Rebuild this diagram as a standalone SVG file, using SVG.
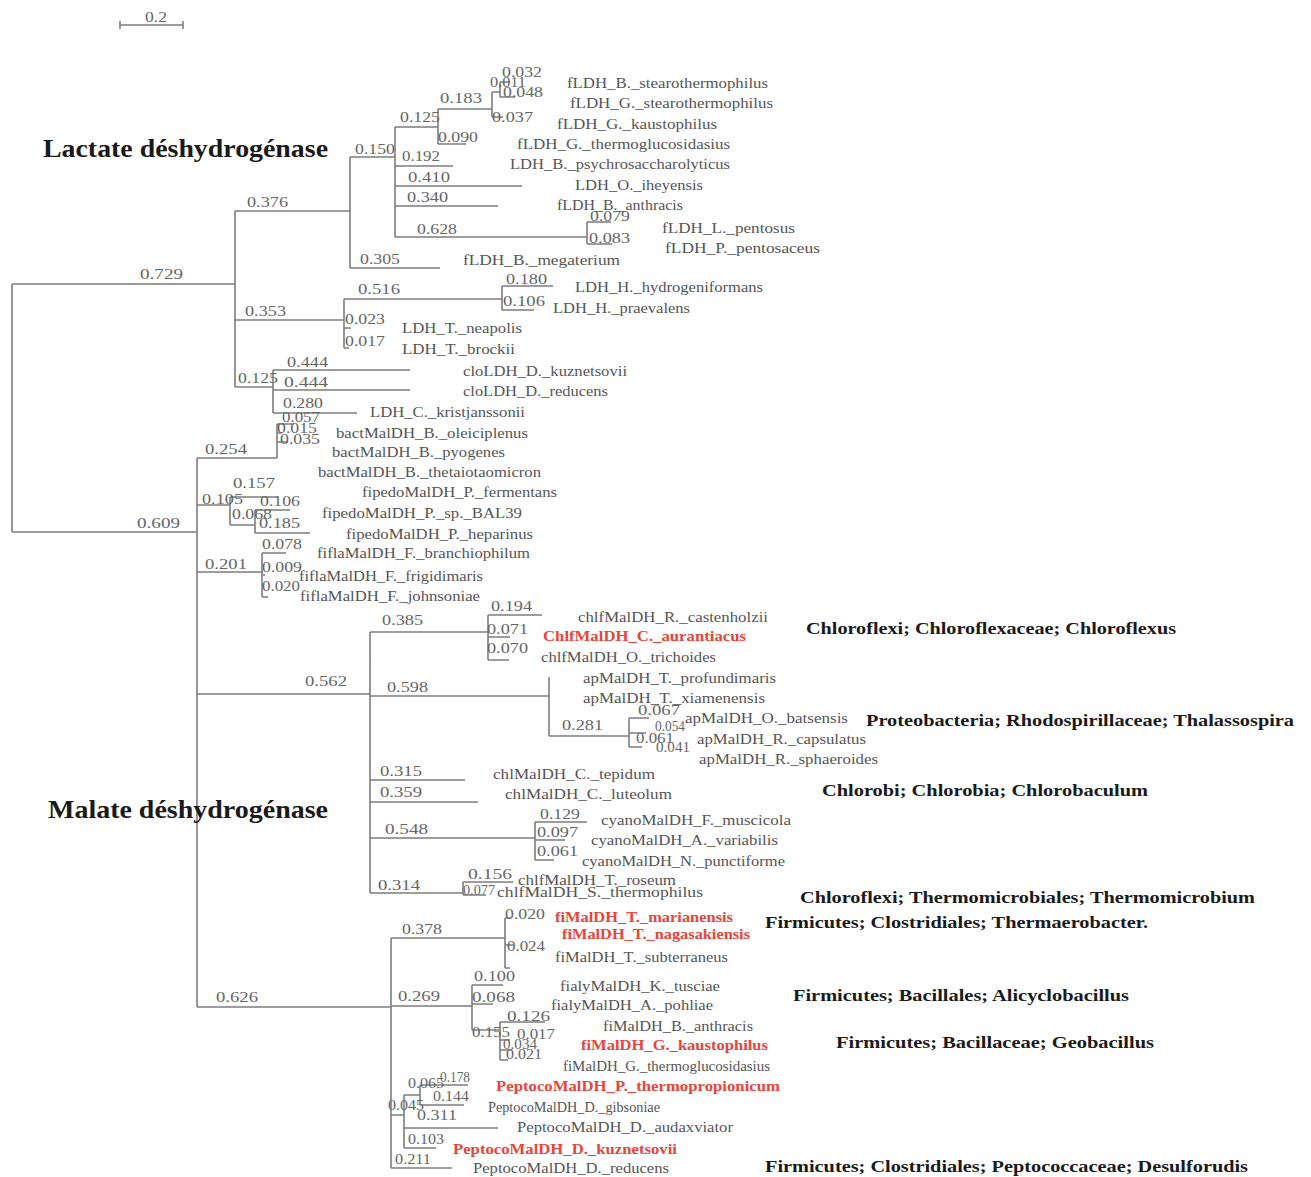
<svg xmlns="http://www.w3.org/2000/svg" width="1311" height="1177" viewBox="0 0 1311 1177">
<style>
text{font-family:"Liberation Serif","Times New Roman",serif}
.t{font-size:14px;fill:#555}
.r{font-size:14px;fill:#e8453c;font-weight:bold}
.n{font-size:14px;fill:#666}
.h{font-size:25px;font-weight:bold;fill:#1a1a1a}
.g{font-size:17px;font-weight:bold;fill:#1a1a1a}
.e{fill:none;stroke:#7d7d7d;stroke-width:1.6}
</style>
<rect width="1311" height="1177" fill="#fff"/>
<g id="scale">
<path class="e" d="M120,25 H183 M120,21 V29 M183,21 V29"/>
<text class="n" x="145" y="22" textLength="22" lengthAdjust="spacingAndGlyphs">0.2</text>
</g>
<g id="connectors">
<path class="e" d="M12,284 V532 M12,284 H235 M12,532 H197
M235,211 V387 M235,211 H350 M350,157 V268 M350,157 H395 M350,268 H440
M395,127 V237 M395,127 H438 M395,166 H453 M395,186 H522 M395,206 H498 M395,237 H587
M438,109 V144 M438,109 H492 M438,144 H466
M492,92 V117 M492,117 H503 M492,92 H500 M500,82 V97 M500,82 H510 M500,97 H515
M587,222 V244 M587,222 H611 M587,244 H612
M235,320 H344 M344,299 V348 M344,299 H502 M344,328 H351 M344,348 H349
M502,286 V310 M502,286 H553 M502,310 H534
M235,387 H273 M273,370 V413 M273,370 H410 M273,390 H410 M273,413 H357
M197,458 V1007
M197,458 H277 M277,424 V458 M277,424 H294 M277,433 H282 M277,442 H288
M197,505 H230 M230,497 V525 M230,497 H278 M230,525 H255 M255,510 V533 M255,510 H290 M255,533 H310
M197,572 H262 M262,553 V597 M262,553 H286 M262,575 H265 M262,597 H268
M197,694 H370 M370,632 V893
M370,632 H488 M488,615 V660 M488,615 H542 M488,637 H510 M488,660 H509
M370,696 H549 M549,677 V736 M549,736 H629 M629,718 V747 M629,718 H649 M629,733 H646 M629,747 H642
M370,780 H465 M370,802 H478
M370,838 H535 M535,822 V860 M535,822 H587 M535,840 H565 M535,860 H554
M370,893 H463 M463,882 V895 M463,882 H513 M463,895 H486
M197,1007 H391 M391,938 V1168
M391,938 H505 M505,918 V968 M505,918 H511 M505,945 H513 M505,968 H510
M391,1006 H472 M472,985 V1030 M472,985 H503 M472,1004 H493
M472,1030 H500 M500,1022 V1060 M500,1022 H545 M500,1040 H510 M500,1050 H512 M500,1060 H508
M391,1168 H452 M391,1115 H404 M404,1095 V1148 M404,1148 H436 M404,1128 H498
M404,1095 H420 M420,1085 V1105 M420,1085 H468 M420,1105 H464"/>
</g>
<g id="branch-lengths">
<text class="n" x="140" y="279" textLength="43" lengthAdjust="spacingAndGlyphs">0.729</text>
<text class="n" x="137" y="528" textLength="43" lengthAdjust="spacingAndGlyphs">0.609</text>
<text class="n" x="247" y="207" textLength="41" lengthAdjust="spacingAndGlyphs">0.376</text>
<text class="n" x="245" y="316" textLength="41" lengthAdjust="spacingAndGlyphs">0.353</text>
<text class="n" x="355" y="154" textLength="40" lengthAdjust="spacingAndGlyphs">0.150</text>
<text class="n" x="400" y="122" textLength="40" lengthAdjust="spacingAndGlyphs">0.125</text>
<text class="n" x="440" y="103" textLength="42" lengthAdjust="spacingAndGlyphs">0.183</text>
<text class="n" x="502" y="77" textLength="40" lengthAdjust="spacingAndGlyphs">0.032</text>
<text class="n" x="490" y="87" textLength="36" lengthAdjust="spacingAndGlyphs">0.011</text>
<text class="n" x="503" y="97" textLength="40" lengthAdjust="spacingAndGlyphs">0.048</text>
<text class="n" x="492" y="122" textLength="41" lengthAdjust="spacingAndGlyphs">0.037</text>
<text class="n" x="438" y="142" textLength="40" lengthAdjust="spacingAndGlyphs">0.090</text>
<text class="n" x="402" y="161" textLength="38" lengthAdjust="spacingAndGlyphs">0.192</text>
<text class="n" x="408" y="182" textLength="42" lengthAdjust="spacingAndGlyphs">0.410</text>
<text class="n" x="407" y="202" textLength="41" lengthAdjust="spacingAndGlyphs">0.340</text>
<text class="n" x="417" y="234" textLength="40" lengthAdjust="spacingAndGlyphs">0.628</text>
<text class="n" x="590" y="221" textLength="40" lengthAdjust="spacingAndGlyphs">0.079</text>
<text class="n" x="589" y="243" textLength="41" lengthAdjust="spacingAndGlyphs">0.083</text>
<text class="n" x="360" y="264" textLength="40" lengthAdjust="spacingAndGlyphs">0.305</text>
<text class="n" x="358" y="294" textLength="42" lengthAdjust="spacingAndGlyphs">0.516</text>
<text class="n" x="506" y="284" textLength="41" lengthAdjust="spacingAndGlyphs">0.180</text>
<text class="n" x="503" y="306" textLength="42" lengthAdjust="spacingAndGlyphs">0.106</text>
<text class="n" x="345" y="324" textLength="40" lengthAdjust="spacingAndGlyphs">0.023</text>
<text class="n" x="345" y="346" textLength="40" lengthAdjust="spacingAndGlyphs">0.017</text>
<text class="n" x="238" y="383" textLength="40" lengthAdjust="spacingAndGlyphs">0.125</text>
<text class="n" x="287" y="367" textLength="41" lengthAdjust="spacingAndGlyphs">0.444</text>
<text class="n" x="284" y="387" textLength="44" lengthAdjust="spacingAndGlyphs">0.444</text>
<text class="n" x="283" y="408" textLength="40" lengthAdjust="spacingAndGlyphs">0.280</text>
<text class="n" x="282" y="422" textLength="38" lengthAdjust="spacingAndGlyphs">0.057</text>
<text class="n" x="277" y="433" textLength="40" lengthAdjust="spacingAndGlyphs">0.015</text>
<text class="n" x="280" y="444" textLength="40" lengthAdjust="spacingAndGlyphs">0.035</text>
<text class="n" x="205" y="454" textLength="42" lengthAdjust="spacingAndGlyphs">0.254</text>
<text class="n" x="233" y="488" textLength="42" lengthAdjust="spacingAndGlyphs">0.157</text>
<text class="n" x="202" y="504" textLength="41" lengthAdjust="spacingAndGlyphs">0.105</text>
<text class="n" x="260" y="506" textLength="40" lengthAdjust="spacingAndGlyphs">0.106</text>
<text class="n" x="232" y="519" textLength="40" lengthAdjust="spacingAndGlyphs">0.068</text>
<text class="n" x="259" y="528" textLength="41" lengthAdjust="spacingAndGlyphs">0.185</text>
<text class="n" x="262" y="549" textLength="40" lengthAdjust="spacingAndGlyphs">0.078</text>
<text class="n" x="205" y="569" textLength="42" lengthAdjust="spacingAndGlyphs">0.201</text>
<text class="n" x="262" y="572" textLength="40" lengthAdjust="spacingAndGlyphs">0.009</text>
<text class="n" x="262" y="591" textLength="38" lengthAdjust="spacingAndGlyphs">0.020</text>
<text class="n" x="305" y="686" textLength="42" lengthAdjust="spacingAndGlyphs">0.562</text>
<text class="n" x="382" y="625" textLength="41" lengthAdjust="spacingAndGlyphs">0.385</text>
<text class="n" x="491" y="611" textLength="41" lengthAdjust="spacingAndGlyphs">0.194</text>
<text class="n" x="487" y="634" textLength="41" lengthAdjust="spacingAndGlyphs">0.071</text>
<text class="n" x="487" y="653" textLength="41" lengthAdjust="spacingAndGlyphs">0.070</text>
<text class="n" x="387" y="692" textLength="41" lengthAdjust="spacingAndGlyphs">0.598</text>
<text class="n" x="562" y="730" textLength="41" lengthAdjust="spacingAndGlyphs">0.281</text>
<text class="n" x="638" y="715" textLength="42" lengthAdjust="spacingAndGlyphs">0.067</text>
<text class="n" x="655" y="731" textLength="30" lengthAdjust="spacingAndGlyphs">0.054</text>
<text class="n" x="636" y="743" textLength="38" lengthAdjust="spacingAndGlyphs">0.061</text>
<text class="n" x="656" y="752" textLength="34" lengthAdjust="spacingAndGlyphs">0.041</text>
<text class="n" x="380" y="776" textLength="42" lengthAdjust="spacingAndGlyphs">0.315</text>
<text class="n" x="380" y="797" textLength="42" lengthAdjust="spacingAndGlyphs">0.359</text>
<text class="n" x="385" y="834" textLength="43" lengthAdjust="spacingAndGlyphs">0.548</text>
<text class="n" x="540" y="819" textLength="40" lengthAdjust="spacingAndGlyphs">0.129</text>
<text class="n" x="537" y="837" textLength="41" lengthAdjust="spacingAndGlyphs">0.097</text>
<text class="n" x="537" y="856" textLength="41" lengthAdjust="spacingAndGlyphs">0.061</text>
<text class="n" x="378" y="890" textLength="42" lengthAdjust="spacingAndGlyphs">0.314</text>
<text class="n" x="468" y="879" textLength="44" lengthAdjust="spacingAndGlyphs">0.156</text>
<text class="n" x="463" y="895" textLength="32" lengthAdjust="spacingAndGlyphs">0.077</text>
<text class="n" x="216" y="1002" textLength="42" lengthAdjust="spacingAndGlyphs">0.626</text>
<text class="n" x="402" y="934" textLength="40" lengthAdjust="spacingAndGlyphs">0.378</text>
<text class="n" x="505" y="919" textLength="40" lengthAdjust="spacingAndGlyphs">0.020</text>
<text class="n" x="507" y="951" textLength="38" lengthAdjust="spacingAndGlyphs">0.024</text>
<text class="n" x="398" y="1001" textLength="42" lengthAdjust="spacingAndGlyphs">0.269</text>
<text class="n" x="474" y="981" textLength="41" lengthAdjust="spacingAndGlyphs">0.100</text>
<text class="n" x="472" y="1002" textLength="43" lengthAdjust="spacingAndGlyphs">0.068</text>
<text class="n" x="507" y="1021" textLength="43" lengthAdjust="spacingAndGlyphs">0.126</text>
<text class="n" x="472" y="1037" textLength="38" lengthAdjust="spacingAndGlyphs">0.155</text>
<text class="n" x="517" y="1039" textLength="38" lengthAdjust="spacingAndGlyphs">0.017</text>
<text class="n" x="503" y="1049" textLength="34" lengthAdjust="spacingAndGlyphs">0.034</text>
<text class="n" x="506" y="1059" textLength="36" lengthAdjust="spacingAndGlyphs">0.021</text>
<text class="n" x="440" y="1082" textLength="30" lengthAdjust="spacingAndGlyphs">0.178</text>
<text class="n" x="408" y="1088" textLength="36" lengthAdjust="spacingAndGlyphs">0.065</text>
<text class="n" x="433" y="1101" textLength="36" lengthAdjust="spacingAndGlyphs">0.144</text>
<text class="n" x="388" y="1110" textLength="36" lengthAdjust="spacingAndGlyphs">0.045</text>
<text class="n" x="417" y="1120" textLength="40" lengthAdjust="spacingAndGlyphs">0.311</text>
<text class="n" x="408" y="1144" textLength="36" lengthAdjust="spacingAndGlyphs">0.103</text>
<text class="n" x="395" y="1164" textLength="36" lengthAdjust="spacingAndGlyphs">0.211</text>
</g>
<g id="titles">
<text class="h" x="43" y="157" textLength="285" lengthAdjust="spacingAndGlyphs">Lactate déshydrogénase</text>
<text class="h" x="48" y="818" textLength="280" lengthAdjust="spacingAndGlyphs">Malate déshydrogénase</text>
</g>
<g id="taxonomy">
<text class="g" x="806" y="634" textLength="370" lengthAdjust="spacingAndGlyphs">Chloroflexi; Chloroflexaceae; Chloroflexus</text>
<text class="g" x="866" y="726" textLength="428" lengthAdjust="spacingAndGlyphs">Proteobacteria; Rhodospirillaceae; Thalassospira</text>
<text class="g" x="822" y="796" textLength="326" lengthAdjust="spacingAndGlyphs">Chlorobi; Chlorobia; Chlorobaculum</text>
<text class="g" x="800" y="903" textLength="455" lengthAdjust="spacingAndGlyphs">Chloroflexi; Thermomicrobiales; Thermomicrobium</text>
<text class="g" x="765" y="928" textLength="383" lengthAdjust="spacingAndGlyphs">Firmicutes; Clostridiales; Thermaerobacter.</text>
<text class="g" x="793" y="1001" textLength="336" lengthAdjust="spacingAndGlyphs">Firmicutes; Bacillales; Alicyclobacillus</text>
<text class="g" x="836" y="1048" textLength="318" lengthAdjust="spacingAndGlyphs">Firmicutes; Bacillaceae; Geobacillus</text>
<text class="g" x="765" y="1172" textLength="483" lengthAdjust="spacingAndGlyphs">Firmicutes; Clostridiales; Peptococcaceae; Desulforudis</text>
</g>
<g id="taxa">
<g id="n1"><text class="t" x="567" y="88" textLength="201" lengthAdjust="spacingAndGlyphs">fLDH_B._stearothermophilus</text></g>
<g id="n2"><text class="t" x="570" y="108" textLength="203" lengthAdjust="spacingAndGlyphs">fLDH_G._stearothermophilus</text></g>
<g id="n3"><text class="t" x="557" y="129" textLength="160" lengthAdjust="spacingAndGlyphs">fLDH_G._kaustophilus</text></g>
<g id="n4"><text class="t" x="517" y="149" textLength="213" lengthAdjust="spacingAndGlyphs">fLDH_G._thermoglucosidasius</text></g>
<g id="n5"><text class="t" x="510" y="169" textLength="220" lengthAdjust="spacingAndGlyphs">LDH_B._psychrosaccharolyticus</text></g>
<g id="n6"><text class="t" x="575" y="190" textLength="128" lengthAdjust="spacingAndGlyphs">LDH_O._iheyensis</text></g>
<g id="n7"><text class="t" x="557" y="210" textLength="126" lengthAdjust="spacingAndGlyphs">fLDH_B._anthracis</text></g>
<g id="n8"><text class="t" x="662" y="233" textLength="133" lengthAdjust="spacingAndGlyphs">fLDH_L._pentosus</text></g>
<g id="n9"><text class="t" x="665" y="253" textLength="155" lengthAdjust="spacingAndGlyphs">fLDH_P._pentosaceus</text></g>
<g id="n10"><text class="t" x="463" y="265" textLength="157" lengthAdjust="spacingAndGlyphs">fLDH_B._megaterium</text></g>
<g id="n11"><text class="t" x="575" y="292" textLength="188" lengthAdjust="spacingAndGlyphs">LDH_H._hydrogeniformans</text></g>
<g id="n12"><text class="t" x="553" y="313" textLength="137" lengthAdjust="spacingAndGlyphs">LDH_H._praevalens</text></g>
<g id="n13"><text class="t" x="402" y="333" textLength="120" lengthAdjust="spacingAndGlyphs">LDH_T._neapolis</text></g>
<g id="n14"><text class="t" x="402" y="354" textLength="113" lengthAdjust="spacingAndGlyphs">LDH_T._brockii</text></g>
<g id="n15"><text class="t" x="463" y="376" textLength="164" lengthAdjust="spacingAndGlyphs">cloLDH_D._kuznetsovii</text></g>
<g id="n16"><text class="t" x="463" y="396" textLength="145" lengthAdjust="spacingAndGlyphs">cloLDH_D._reducens</text></g>
<g id="n17"><text class="t" x="370" y="417" textLength="155" lengthAdjust="spacingAndGlyphs">LDH_C._kristjanssonii</text></g>
<g id="n18"><text class="t" x="336" y="438" textLength="192" lengthAdjust="spacingAndGlyphs">bactMalDH_B._oleiciplenus</text></g>
<g id="n19"><text class="t" x="332" y="457" textLength="173" lengthAdjust="spacingAndGlyphs">bactMalDH_B._pyogenes</text></g>
<g id="n20"><text class="t" x="318" y="477" textLength="223" lengthAdjust="spacingAndGlyphs">bactMalDH_B._thetaiotaomicron</text></g>
<g id="n21"><text class="t" x="362" y="497" textLength="195" lengthAdjust="spacingAndGlyphs">fipedoMalDH_P._fermentans</text></g>
<g id="n22"><text class="t" x="322" y="518" textLength="200" lengthAdjust="spacingAndGlyphs">fipedoMalDH_P._sp._BAL39</text></g>
<g id="n23"><text class="t" x="346" y="539" textLength="187" lengthAdjust="spacingAndGlyphs">fipedoMalDH_P._heparinus</text></g>
<g id="n24"><text class="t" x="317" y="558" textLength="213" lengthAdjust="spacingAndGlyphs">fiflaMalDH_F._branchiophilum</text></g>
<g id="n25"><text class="t" x="299" y="581" textLength="184" lengthAdjust="spacingAndGlyphs">fiflaMalDH_F._frigidimaris</text></g>
<g id="n26"><text class="t" x="300" y="601" textLength="180" lengthAdjust="spacingAndGlyphs">fiflaMalDH_F._johnsoniae</text></g>
<g id="n27"><text class="t" x="578" y="622" textLength="190" lengthAdjust="spacingAndGlyphs">chlfMalDH_R._castenholzii</text></g>
<g id="n28"><text class="r" x="543" y="641" textLength="203" lengthAdjust="spacingAndGlyphs">ChlfMalDH_C._aurantiacus</text></g>
<g id="n29"><text class="t" x="541" y="662" textLength="175" lengthAdjust="spacingAndGlyphs">chlfMalDH_O._trichoides</text></g>
<g id="n30"><text class="t" x="583" y="683" textLength="193" lengthAdjust="spacingAndGlyphs">apMalDH_T._profundimaris</text></g>
<g id="n31"><text class="t" x="583" y="703" textLength="182" lengthAdjust="spacingAndGlyphs">apMalDH_T._xiamenensis</text></g>
<g id="n32"><text class="t" x="685" y="723" textLength="163" lengthAdjust="spacingAndGlyphs">apMalDH_O._batsensis</text></g>
<g id="n33"><text class="t" x="697" y="744" textLength="169" lengthAdjust="spacingAndGlyphs">apMalDH_R._capsulatus</text></g>
<g id="n34"><text class="t" x="699" y="764" textLength="179" lengthAdjust="spacingAndGlyphs">apMalDH_R._sphaeroides</text></g>
<g id="n35"><text class="t" x="493" y="779" textLength="162" lengthAdjust="spacingAndGlyphs">chlMalDH_C._tepidum</text></g>
<g id="n36"><text class="t" x="505" y="799" textLength="167" lengthAdjust="spacingAndGlyphs">chlMalDH_C._luteolum</text></g>
<g id="n37"><text class="t" x="601" y="825" textLength="190" lengthAdjust="spacingAndGlyphs">cyanoMalDH_F._muscicola</text></g>
<g id="n38"><text class="t" x="591" y="845" textLength="187" lengthAdjust="spacingAndGlyphs">cyanoMalDH_A._variabilis</text></g>
<g id="n39"><text class="t" x="582" y="866" textLength="203" lengthAdjust="spacingAndGlyphs">cyanoMalDH_N._punctiforme</text></g>
<g id="n40"><text class="t" x="518" y="885" textLength="158" lengthAdjust="spacingAndGlyphs">chlfMalDH_T._roseum</text></g>
<g id="n41"><text class="t" x="497" y="897" textLength="206" lengthAdjust="spacingAndGlyphs">chlfMalDH_S._thermophilus</text></g>
<g id="n42"><text class="r" x="555" y="922" textLength="178" lengthAdjust="spacingAndGlyphs">fiMalDH_T._marianensis</text></g>
<g id="n43"><text class="r" x="562" y="939" textLength="188" lengthAdjust="spacingAndGlyphs">fiMalDH_T._nagasakiensis</text></g>
<g id="n44"><text class="t" x="555" y="962" textLength="173" lengthAdjust="spacingAndGlyphs">fiMalDH_T._subterraneus</text></g>
<g id="n45"><text class="t" x="560" y="991" textLength="160" lengthAdjust="spacingAndGlyphs">fialyMalDH_K._tusciae</text></g>
<g id="n46"><text class="t" x="551" y="1010" textLength="162" lengthAdjust="spacingAndGlyphs">fialyMalDH_A._pohliae</text></g>
<g id="n47"><text class="t" x="603" y="1031" textLength="150" lengthAdjust="spacingAndGlyphs">fiMalDH_B._anthracis</text></g>
<g id="n48"><text class="r" x="581" y="1050" textLength="187" lengthAdjust="spacingAndGlyphs">fiMalDH_G._kaustophilus</text></g>
<g id="n49"><text class="t" x="563" y="1071" textLength="207" lengthAdjust="spacingAndGlyphs">fiMalDH_G._thermoglucosidasius</text></g>
<g id="n50"><text class="r" x="496" y="1091" textLength="284" lengthAdjust="spacingAndGlyphs">PeptocoMalDH_P._thermopropionicum</text></g>
<g id="n51"><text class="t" x="488" y="1112" textLength="172" lengthAdjust="spacingAndGlyphs">PeptocoMalDH_D._gibsoniae</text></g>
<g id="n52"><text class="t" x="517" y="1132" textLength="216" lengthAdjust="spacingAndGlyphs">PeptocoMalDH_D._audaxviator</text></g>
<g id="n53"><text class="r" x="453" y="1154" textLength="224" lengthAdjust="spacingAndGlyphs">PeptocoMalDH_D._kuznetsovii</text></g>
<g id="n54"><text class="t" x="473" y="1173" textLength="196" lengthAdjust="spacingAndGlyphs">PeptocoMalDH_D._reducens</text></g>
</g>
</svg>
